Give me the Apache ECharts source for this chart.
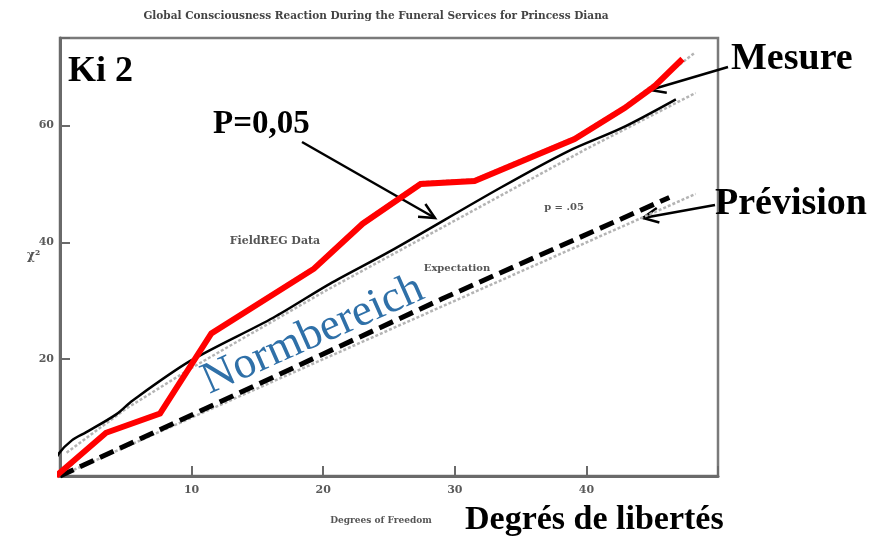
<!DOCTYPE html>
<html>
<head>
<meta charset="utf-8">
<script src="https://cdn.jsdelivr.net/npm/echarts@6/dist/echarts.min.js"></script>
<style>
  html, body { margin: 0; padding: 0; background: #fff; }
  #chart { width: 872px; height: 536px; }
</style>
</head>
<body>
<div id="chart"></div>
<script>
// ticks
var xTicks = [10, 20, 30, 40];
var yTicks = [20, 40, 60];

// measured curve (red, "Mesure")
var mesureDf   = [-0.3, 3.5, 7.6, 11.5, 19.3, 23.0, 27.4, 31.5, 39.1, 42.9, 45.2, 47.3];
var mesureChi2 = [0, 7.4, 10.7, 24.4, 35.5, 43.2, 50.0, 50.5, 57.7, 63.0, 66.8, 71.4];

// original FieldREG data trace (grey, under the red one)
var fieldDf   = [0, 3.5, 7.6, 11.5, 19.3, 23.0, 27.4, 31.5, 39.1, 42.9, 45.2, 48.2];
var fieldChi2 = [0, 7.6, 10.9, 24.6, 35.8, 43.5, 50.3, 50.8, 58.0, 63.3, 67.2, 72.4];

// hand drawn p = 0.05 line (black)
var p05Df   = [-0.7, -0.1, 0.9, 2.0, 4.3, 5.5, 9.9, 16.2, 20.5, 25.1, 33.5, 38.6, 42.7, 46.8];
var p05Chi2 = [0.9, 3.8, 6.1, 7.5, 10.6, 12.9, 19.7, 27.1, 32.9, 38.5, 49.4, 55.6, 59.6, 64.5];

// original p = .05 trace (grey dotted)
var p05GreyDf   = [0.5, 5, 10, 20, 29, 40, 48.3];
var p05GreyChi2 = [4, 11.5, 18.5, 31.5, 42.5, 56, 65.6];

// expectation ("Prévision") dashed and its grey original
var prevDf   = [0, 29.0, 46.3];
var prevChi2 = [0, 30.3, 47.7];
var expDf   = [0, 48.3];
var expChi2 = [0, 48.3];

function pairs(xs, ys) {
  var out = [];
  for (var i = 0; i < xs.length; i++) out.push([xs[i], ys[i]]);
  return out;
}

function arrow(x1, y1, x2, y2) {
  var a = Math.atan2(y2 - y1, x2 - x1), len = 17, w = 0.45;
  return {
    type: 'group', silent: true, z: 50,
    children: [
      { type: 'line', shape: { x1: x1, y1: y1, x2: x2, y2: y2 },
        style: { stroke: '#000', lineWidth: 2.5 } },
      { type: 'polyline', shape: { points: [
          [x2 - len * Math.cos(a - w), y2 - len * Math.sin(a - w)],
          [x2, y2],
          [x2 - len * Math.cos(a + w), y2 - len * Math.sin(a + w)] ] },
        style: { stroke: '#000', lineWidth: 2.5, fill: null } }
    ]
  };
}

function bigText(txt, x, y, size) {
  return { type: 'text', x: x, y: y, z: 60, silent: true,
    style: { text: txt, fill: '#000', font: 'bold ' + size + 'px "Liberation Serif", serif' } };
}

function smallText(txt, x, y, size) {
  return { type: 'text', x: x, y: y, z: 40, silent: true,
    style: { text: txt, fill: '#555', align: 'center', verticalAlign: 'middle',
      font: 'bold ' + size + 'px "DejaVu Serif", serif' } };
}

var greyLine = { color: '#b4b4b4', width: 2.5, type: [3, 2] };

var chart = echarts.init(document.getElementById('chart'));
chart.setOption({
  animation: false,
  backgroundColor: '#fff',
  grid: { left: 60, right: 154, top: 38, bottom: 60, show: true,
    borderColor: '#7a7a7a', borderWidth: 2.5 },
  xAxis: {
    type: 'value', min: 0, max: 50, interval: 10,
    splitLine: { show: false },
    axisLine: { lineStyle: { color: '#6a6a6a', width: 3 } },
    axisTick: { inside: true, length: 10, lineStyle: { color: '#6a6a6a', width: 2 } },
    axisLabel: { color: '#5a5a5a', fontFamily: 'DejaVu Serif', fontWeight: 'bold', fontSize: 11, margin: 9,
      formatter: function (v) { return xTicks.indexOf(v) >= 0 ? String(v) : ''; } }
  },
  yAxis: {
    type: 'value', min: 0, max: 75, interval: 20,
    splitLine: { show: false },
    axisLine: { show: true, lineStyle: { color: '#6a6a6a', width: 3 } },
    axisTick: { show: true, inside: true, length: 10, lineStyle: { color: '#6a6a6a', width: 2 } },
    axisLabel: { color: '#5a5a5a', fontFamily: 'DejaVu Serif', fontWeight: 'bold', fontSize: 11, margin: 6,
      formatter: function (v) { return yTicks.indexOf(v) >= 0 ? String(v) : ''; } }
  },
  series: [
    { name: 'FieldREG Data', type: 'line', data: pairs(fieldDf, fieldChi2), showSymbol: false,
      clip: false, z: 1, lineStyle: greyLine },
    { name: 'p = .05', type: 'line', data: pairs(p05GreyDf, p05GreyChi2), showSymbol: false,
      clip: false, z: 1, lineStyle: greyLine },
    { name: 'Expectation', type: 'line', data: pairs(expDf, expChi2), showSymbol: false,
      clip: false, z: 1, lineStyle: greyLine },
    { name: 'Prévision', type: 'line', data: pairs(prevDf, prevChi2), showSymbol: false,
      clip: false, z: 3, lineStyle: { color: '#000', width: 5, type: [15, 7], cap: 'butt' } },
    { name: 'P=0,05', type: 'line', data: pairs(p05Df, p05Chi2), showSymbol: false, smooth: 0.3,
      clip: false, z: 4, lineStyle: { color: '#000', width: 2.5 } },
    { name: 'Mesure', type: 'line', data: pairs(mesureDf, mesureChi2), showSymbol: false,
      clip: false, z: 5, lineStyle: { color: '#ff0000', width: 6, join: 'miter' } }
  ],
  graphic: [
    { type: 'text', x: 376, y: 16, silent: true,
      style: { text: 'Global Consciousness Reaction During the Funeral Services for Princess Diana',
        fill: '#444', align: 'center', verticalAlign: 'middle', font: 'bold 10.5px "DejaVu Serif", serif' } },
    smallText('Degrees of Freedom', 381, 521, 9),
    { type: 'text', x: 27, y: 250, silent: true,
      style: { text: 'χ²', fill: '#555', font: 'bold 12px "DejaVu Serif", serif' } },
    smallText('FieldREG Data', 275, 241, 11),
    smallText('p = .05', 564, 207, 10),
    smallText('Expectation', 457, 268, 10),
    { type: 'text', x: 313, y: 335, rotation: 24 * Math.PI / 180, silent: true, z: 45,
      style: { text: 'Normbereich', fill: '#2f70a8', align: 'center', verticalAlign: 'middle',
        font: '45px "Liberation Serif", serif' } },
    bigText('Ki 2', 68, 54, 36),
    bigText('P=0,05', 213, 108, 33),
    bigText('Mesure', 731, 40, 38),
    bigText('Prévision', 715, 185, 38),
    bigText('Degrés de libertés', 465, 503, 34),
    arrow(302, 142, 435, 218),
    arrow(728, 67, 650, 90),
    arrow(715, 205, 643, 218)
  ]
});
</script>
</body>
</html>
